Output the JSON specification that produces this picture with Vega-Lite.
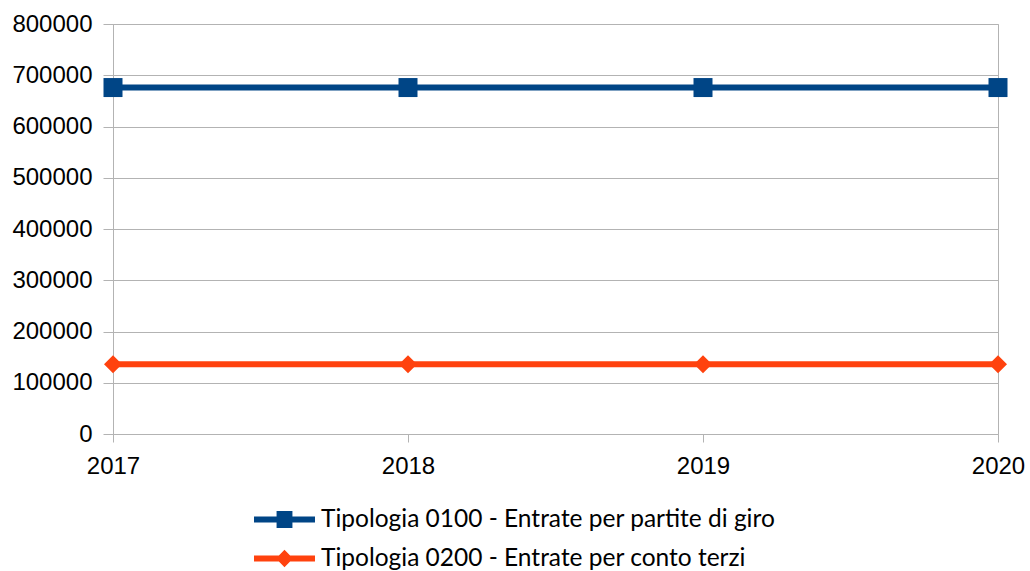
{
  "$schema": "https://vega.github.io/schema/vega-lite/v6.json",
  "width": 885,
  "height": 410,
  "autosize": "none",
  "padding": {"left": 113, "top": 24, "right": 32, "bottom": 137},
  "background": "white",
  "config": {
    "view": {"stroke": "#b3b3b3", "strokeWidth": 1},
    "font": "Liberation Sans"
  },
  "data": {
    "values": [
      {"year": 2017, "series": "Tipologia 0100 - Entrate per partite di giro", "value": 676000},
      {"year": 2018, "series": "Tipologia 0100 - Entrate per partite di giro", "value": 676000},
      {"year": 2019, "series": "Tipologia 0100 - Entrate per partite di giro", "value": 676000},
      {"year": 2020, "series": "Tipologia 0100 - Entrate per partite di giro", "value": 676000},
      {"year": 2017, "series": "Tipologia 0200 - Entrate per conto terzi", "value": 136000},
      {"year": 2018, "series": "Tipologia 0200 - Entrate per conto terzi", "value": 136000},
      {"year": 2019, "series": "Tipologia 0200 - Entrate per conto terzi", "value": 136000},
      {"year": 2020, "series": "Tipologia 0200 - Entrate per conto terzi", "value": 136000}
    ]
  },
  "encoding": {
    "x": {
      "field": "year", "type": "quantitative",
      "scale": {"domain": [2017, 2020], "nice": false, "zero": false},
      "axis": {
        "title": null, "values": [2017, 2018, 2019, 2020], "format": "d",
        "grid": false, "domain": false, "tickColor": "#b3b3b3", "tickSize": 8,
        "labelFontSize": 24, "labelColor": "#000000", "labelPadding": 12,
        "labelFont": "Liberation Sans", "labelFlush": false
      }
    },
    "y": {
      "field": "value", "type": "quantitative",
      "scale": {"domain": [0, 800000], "nice": false},
      "axis": {
        "title": null, "values": [0, 100000, 200000, 300000, 400000, 500000, 600000, 700000, 800000],
        "format": "d", "grid": true, "gridColor": "#b3b3b3", "domainColor": "#b3b3b3",
        "tickColor": "#b3b3b3", "tickSize": 10, "labelPadding": 11,
        "labelFontSize": 24, "labelColor": "#000000", "labelFont": "Liberation Sans"
      }
    },
    "color": {
      "field": "series", "type": "nominal",
      "scale": {
        "domain": ["Tipologia 0100 - Entrate per partite di giro", "Tipologia 0200 - Entrate per conto terzi"],
        "range": ["#004586", "#ff420e"]
      },
      "legend": {
        "title": null, "orient": "none", "legendX": 156, "legendY": 480,
        "direction": "vertical",
        "labelFont": "Lato", "labelFontSize": 24.5, "labelColor": "#000000",
        "symbolSize": 930, "labelOffset": 21, "rowPadding": 12,
        "labelLimit": 800,
        "encode": {
          "symbols": {
            "update": {
              "shape": {"signal": "datum.value === 'Tipologia 0100 - Entrate per partite di giro' ? 'M-2,-0.2H2V0.2H-2Z M-0.52,-0.55H0.52V0.55H-0.52Z' : 'M-2,-0.2H2V0.2H-2Z M-0.56,0L0,-0.58L0.56,0L0,0.58Z'"},
              "fill": {"signal": "scale('color', datum.value)"},
              "stroke": {"value": null},
              "strokeWidth": {"value": 0},
              "opacity": {"value": 1},
              "fillOpacity": {"value": 1}
            }
          }
        }
      }
    }
  },
  "layer": [
    {"mark": {"type": "line", "strokeWidth": 6}},
    {
      "transform": [{"filter": "datum.series === 'Tipologia 0100 - Entrate per partite di giro'"}],
      "mark": {"type": "point", "filled": true, "opacity": 1, "shape": "square", "size": 361}
    },
    {
      "transform": [{"filter": "datum.series === 'Tipologia 0200 - Entrate per conto terzi'"}],
      "mark": {"type": "point", "filled": true, "opacity": 1, "shape": "diamond", "size": 324}
    }
  ]
}
